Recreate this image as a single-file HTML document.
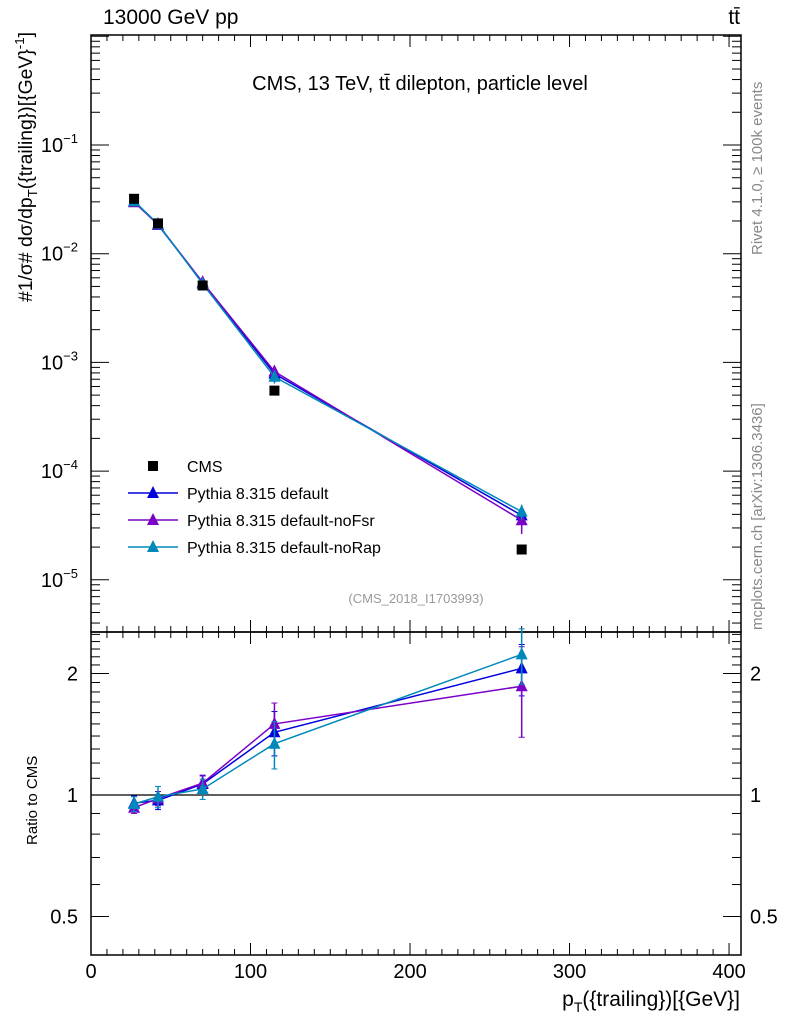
<!DOCTYPE html>
<html><head><meta charset="utf-8"><style>
body{margin:0;background:#fff;width:786px;height:1024px;overflow:hidden}
svg{font-family:"Liberation Sans",sans-serif}
</style></head><body>
<svg id="c" width="786" height="1024" xmlns="http://www.w3.org/2000/svg">
<text x="103" y="24" font-size="21">13000 GeV pp</text>
<text x="740" y="24" font-size="21" text-anchor="end">tt̄</text>
<text x="420" y="90" font-size="20" text-anchor="middle">CMS, 13 TeV, tt̄ dilepton, particle level</text>
<text x="416" y="603" font-size="13" fill="#999" text-anchor="middle">(CMS_2018_I1703993)</text>
<text transform="translate(762,255) rotate(-90)" font-size="15" fill="#888">Rivet 4.1.0, ≥ 100k events</text>
<text transform="translate(762,630) rotate(-90)" font-size="15" fill="#888">mcplots.cern.ch [arXiv:1306.3436]</text>
<text transform="translate(32,302) rotate(-90)" font-size="19" textLength="270" lengthAdjust="spacingAndGlyphs">#1/σ# dσ/dp<tspan font-size="13" dy="5">T</tspan><tspan dy="-5">({trailing})[{GeV}</tspan><tspan font-size="13" dy="-8">-1</tspan><tspan dy="8">]</tspan></text>
<text transform="translate(37,845) rotate(-90)" font-size="15">Ratio to CMS</text>
<text x="740" y="1006" font-size="21" text-anchor="end">p<tspan font-size="14" dy="6">T</tspan><tspan dy="-6">({trailing})[{GeV}]</tspan></text>
<g id="g"></g>
</svg>
<script>
const xs=[27,42,70,115,270];
const cms=[0.032,0.019,0.0051,0.00055,1.9e-5];
const rDef=[0.955,0.97,1.065,1.43,2.06];
const rFsr=[0.93,0.98,1.07,1.50,1.86];
const rRap=[0.95,0.99,1.035,1.34,2.23];
const errDef=[0.04,0.05,0.05,0.18,0.3];
const errFsr=[0.03,0.04,0.05,0.19,0.47];
const errRap=[0.04,0.06,0.06,0.18,0.35];
const xTicks=[0,100,200,300,400];
const yExp=[-1,-2,-3,-4,-5];
const rTicks=[0.5,1,2];
const NS="http://www.w3.org/2000/svg";
const g=document.getElementById('g');
const L=91,R=741,T=35,M=632,B=955;
const X=v=>L+(v/407.5)*(R-L);
const Y=v=>145+(-1-Math.log10(v))*108.7;
const RY=v=>795-Math.log2(v)*121.5;
function el(t,a,n){const e=document.createElementNS(NS,t);for(const k in a)e.setAttribute(k,a[k]);g.appendChild(e);return e;}
let f1=el('rect',{x:L,y:T,width:R-L,height:M-T,fill:'none',stroke:'#000','stroke-width':1.5});


let f2=el('rect',{x:L,y:M,width:R-L,height:B-M,fill:'none',stroke:'#000','stroke-width':1.5});


let one=el('line',{x1:L,x2:R,y1:RY(1),y2:RY(1),stroke:'#000','stroke-width':1.2});


for(let v=0;v<=400;v+=10){const big=v%100==0,len=big?12:6;const x=X(v);
 for(const [a,b] of [[M,M-len],[T,T+len],[B,B-len],[M,M+len]]) el('line',{x1:x,x2:x,y1:a,y2:b,stroke:'#000'});}
xTicks.forEach(v=>{const t=el('text',{x:X(v),y:978,'font-size':20,'text-anchor':'middle'});t.textContent=v;
 
 });
for(let e=-6;e<=0;e++)for(let m=1;m<10;m++){const v=m*Math.pow(10,e);const y=Y(v);if(y<T||y>M)continue;const len=m==1?18:9;
 el('line',{x1:L,x2:L+len,y1:y,y2:y,stroke:'#000'});el('line',{x1:R,x2:R-len,y1:y,y2:y,stroke:'#000'});}
yExp.forEach(e=>{const t=el('text',{x:78,y:Y(Math.pow(10,e))+7,'font-size':20,'text-anchor':'end'});
 t.innerHTML='10<tspan font-size="13" dy="-9">−'+(-e)+'</tspan>';
 
 });
for(let v=0.4;v<=2.6;v+=0.1){const y=RY(v);if(y<M||y>B)continue;const big=[0.5,1,2].some(k=>Math.abs(k-v)<1e-6);const len=big?18:9;
 el('line',{x1:L,x2:L+len,y1:y,y2:y,stroke:'#000'});el('line',{x1:R,x2:R-len,y1:y,y2:y,stroke:'#000'});}
rTicks.forEach(v=>{for(const [x,a] of [[78,'end'],[750,'start']]){const t=el('text',{x:x,y:RY(v)+7,'font-size':20,'text-anchor':a});t.textContent=v;
 
 }});
const series=[['default',rDef,errDef,'#0000dd'],['noFsr',rFsr,errFsr,'#7b00c8'],['noRap',rRap,errRap,'#0088bb']];
function tri(x,y,c,name){const p=el('polygon',{points:`${x},${y-7} ${x-6},${y+5} ${x+6},${y+5}`,fill:c});
 
 }
series.forEach(([n,r,er,c])=>{
 const main=xs.map((x,i)=>X(x)+','+Y(r[i]*cms[i])).join(' ');
 const pl=el('polyline',{points:main,fill:'none',stroke:c,'stroke-width':1.5});
 
 
 const rl=el('polyline',{points:xs.map((x,i)=>X(x)+','+RY(r[i])).join(' '),fill:'none',stroke:c,'stroke-width':1.5});
 
 
 xs.forEach((x,i)=>{const px=X(x);
  const y1=RY(r[i]+er[i]),y2=RY(Math.max(0.3,r[i]-er[i]));
  el('line',{x1:px,x2:px,y1:y1,y2:y2,stroke:c,'stroke-width':1.5});
  el('line',{x1:px-3,x2:px+3,y1:y1,y2:y1,stroke:c});el('line',{x1:px-3,x2:px+3,y1:y2,y2:y2,stroke:c});
  const v=r[i]*cms[i];
  el('line',{x1:px,x2:px,y1:Y(v*(1+er[i]/r[i])),y2:Y(v*(1-er[i]/r[i])),stroke:c,'stroke-width':1.5});
  tri(px,Y(v),c,'point-'+n);tri(px,RY(r[i]),c,'ratio-point-'+n);});
});
xs.forEach((x,i)=>{const s=el('rect',{x:X(x)-5,y:Y(cms[i])-5,width:10,height:10,fill:'#000'});
 
 });
const leg=[['CMS','#000',0],['Pythia 8.315 default','#0000dd',1],['Pythia 8.315 default-noFsr','#7b00c8',1],['Pythia 8.315 default-noRap','#0088bb',1]];
leg.forEach(([t,c,isT],i)=>{const y=466+i*27;
 if(isT){el('line',{x1:128,x2:178,y1:y,y2:y,stroke:c,'stroke-width':1.5});tri(153,y,c,'legend-marker');}
 else{const s=el('rect',{x:148,y:y-5,width:10,height:10,fill:'#000'});}
 const tx=el('text',{x:187,y:y+6,'font-size':16});tx.textContent=t;
 
 });
</script>
</body></html>
